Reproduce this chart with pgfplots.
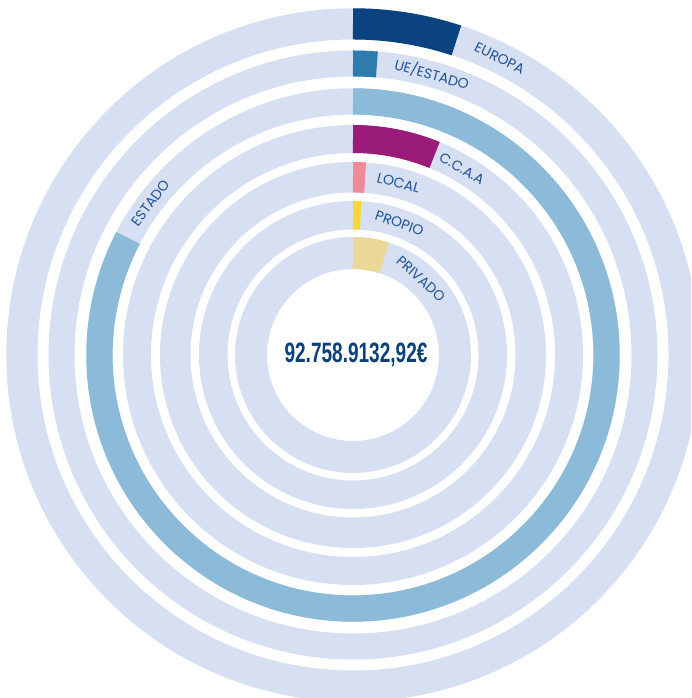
\documentclass[border=0pt]{standalone}
\usepackage{pgfplots}
\pgfplotsset{compat=1.18}
\usepackage{pgfplotstable}
\usepackage{graphicx}
\usepackage{fontspec}
\setmainfont{Poppins}
\newfontfamily\numfont{Liberation Sans}

\definecolor{track}{HTML}{D6E0F2}
% ring colours, outermost first
\definecolor{ring0}{HTML}{0B4380}
\definecolor{ring1}{HTML}{2E7BAE}
\definecolor{ring2}{HTML}{8BBBD8}
\definecolor{ring3}{HTML}{9B1B7B}
\definecolor{ring4}{HTML}{EF8A9B}
\definecolor{ring5}{HTML}{FCD534}
\definecolor{ring6}{HTML}{EBD898}
\definecolor{labblue}{HTML}{1F5294}
\definecolor{numblue}{HTML}{0D3F7A}

\pgfdeclareplotmark{blank}{}

% one row per ring: inner/outer radius (px from centre), sweep of the
% coloured arc in degrees clockwise from 12 o'clock, label centre angle
\pgfplotstableread{
name      rin    rout   ang    lpos
EUROPA    315.5  346.7  18.2   26.3
UE/ESTADO 278.5  304.5  4.7    15.7
ESTADO    240.4  266.7  297.5  306.9
C.C.A.A   202.0  230.0  22.2   30.3
LOCAL     162.5  193.0  3.9    14.8
PROPIO    125.5  154.0  3.1    19.4
PRIVADO   86.0   118.0  17.8   41.7
}\rings

\pgfplotsset{
  ringdata/.style={
    scatter, only marks, mark=blank,
    point meta=explicit symbolic,
    visualization depends on={\thisrow{rin}\as\rin},
    visualization depends on={\thisrow{rout}\as\rout},
    visualization depends on={\thisrow{ang}\as\ang},
    visualization depends on={\thisrow{lpos}\as\lpos},
    visualization depends on={\coordindex\as\idx},
    scatter/@post marker code/.code={},
  },
}

\begin{document}
\begin{tikzpicture}[
  lab/.style={text=labblue, font=\fontsize{14}{16}\selectfont, inner sep=0pt},
]
\begin{axis}[
  x=1pt, y=1pt,
  xmin=-353, xmax=338, ymin=-343, ymax=355,
  hide axis,
  clip marker paths=true,
]
% light background tracks
\addplot[ringdata,
  scatter/@pre marker code/.code={
    \pgfmathsetmacro\rmid{(\rin+\rout)/2}
    \pgfmathsetmacro\thk{\rout-\rin}
    \draw[draw=track, line width=\thk pt] (0pt,-\rmid pt) circle[radius=\rmid pt];
  }] table[x expr=0, y expr=(\thisrow{rin}+\thisrow{rout})/2, meta=name] {\rings};
% coloured arcs and their labels
\addplot[ringdata,
  scatter/@pre marker code/.code={
    \pgfmathsetmacro\rmid{(\rin+\rout)/2}
    \pgfmathsetmacro\thk{\rout-\rin}
    \pgfmathtruncatemacro\i{\idx}
    \draw[draw=ring\i, line width=\thk pt] (0pt,0pt) arc[start angle=90, delta angle=-\ang, radius=\rmid pt];
    \node[lab, rotate=-\lpos] at ([shift={(90-\lpos:\rmid pt)}]0pt,-\rmid pt) {\pgfplotspointmeta};
  }] table[x expr=0, y expr=(\thisrow{rin}+\thisrow{rout})/2, meta=name] {\rings};

\node[text=numblue, font=\numfont\bfseries\fontsize{28}{30}\selectfont]
  at (axis cs:3,0) {\scalebox{0.68}[1]{92.758.9132,92€}};
\end{axis}
\pgfresetboundingbox
\useasboundingbox (current axis.south west) rectangle (current axis.north east);
\end{tikzpicture}
\end{document}
